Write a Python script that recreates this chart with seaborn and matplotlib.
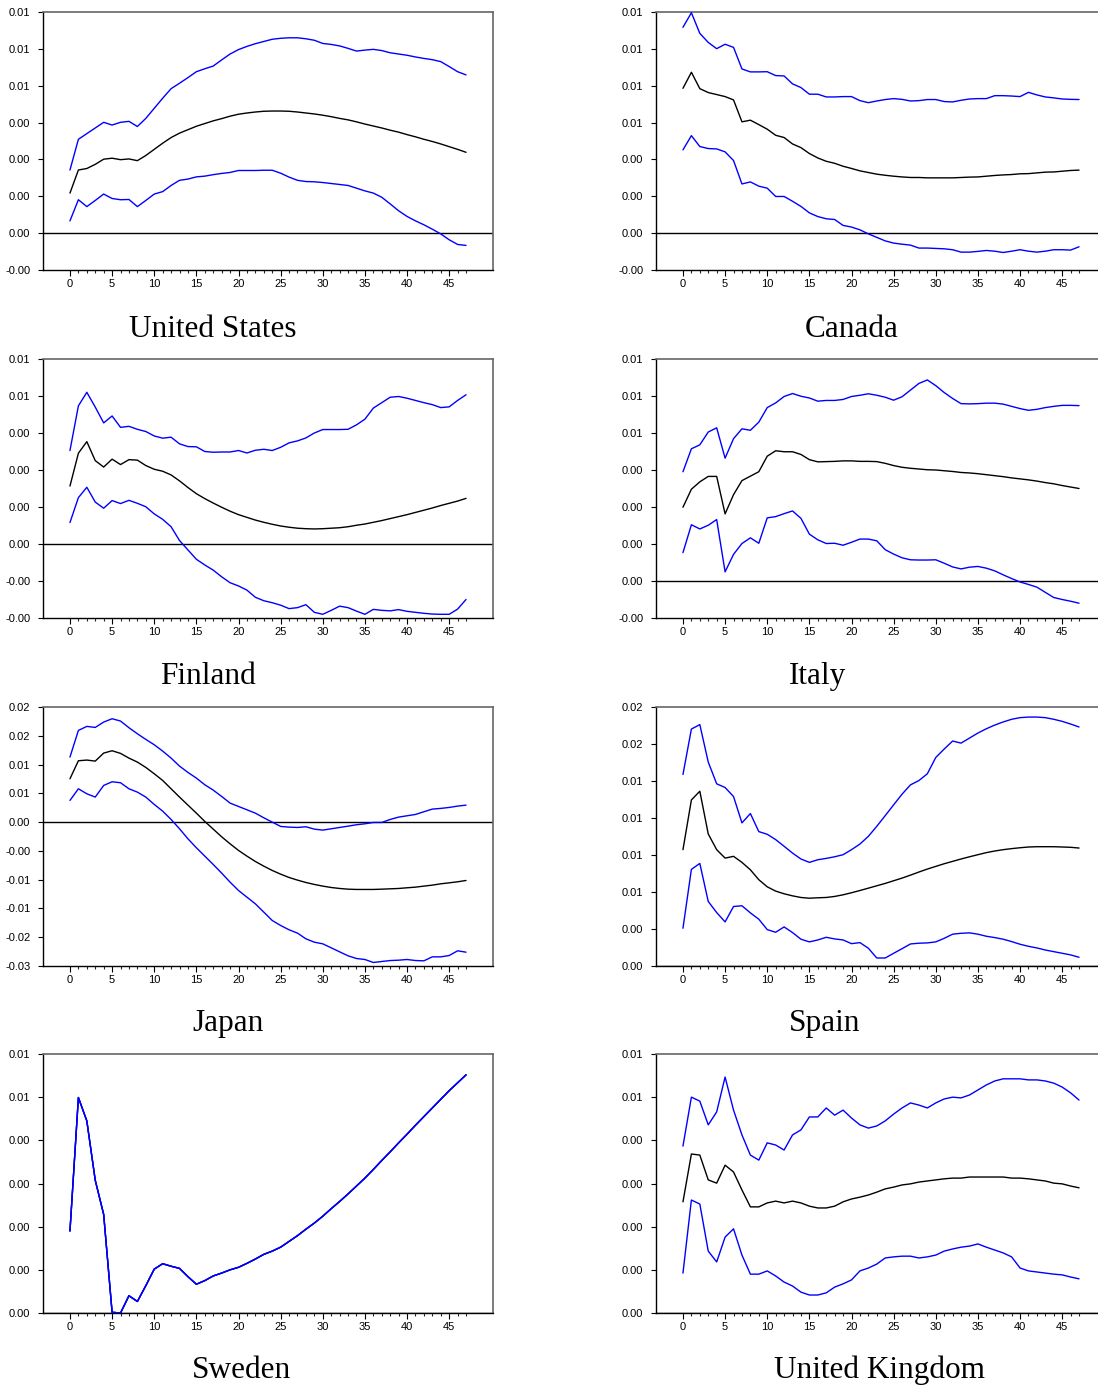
import numpy as np
import matplotlib
matplotlib.use("Agg")
import matplotlib.pyplot as plt
import seaborn as sns
from matplotlib.ticker import FixedLocator

sns.set_style("ticks")
plt.rcParams["font.family"] = ["Liberation Sans Narrow", "Liberation Sans", "DejaVu Sans"]

# Impulse responses over 48 periods (values in thousandths): point estimate and bands
horizon = np.arange(48)

us_upper = np.array([2.57, 3.82, 4.05, 4.28, 4.51, 4.40, 4.51, 4.55, 4.34, 4.67, 5.08, 5.49,
                     5.88, 6.10, 6.33, 6.57, 6.69, 6.80, 7.05, 7.29, 7.47, 7.60, 7.71, 7.80,
                     7.89, 7.93, 7.95, 7.95, 7.91, 7.85, 7.72, 7.68, 7.62, 7.52, 7.41, 7.45,
                     7.48, 7.43, 7.34, 7.29, 7.24, 7.17, 7.11, 7.06, 6.98, 6.78, 6.57, 6.44]) / 1000
us_mid = np.array([1.63, 2.57, 2.63, 2.80, 3.01, 3.05, 2.99, 3.02, 2.95, 3.16, 3.41, 3.66,
                   3.89, 4.07, 4.21, 4.35, 4.46, 4.57, 4.66, 4.76, 4.84, 4.89, 4.93, 4.96,
                   4.97, 4.97, 4.96, 4.93, 4.89, 4.85, 4.80, 4.74, 4.67, 4.61, 4.53, 4.44,
                   4.36, 4.28, 4.19, 4.11, 4.01, 3.92, 3.82, 3.73, 3.63, 3.52, 3.41, 3.29]) / 1000
us_lower = np.array([0.50, 1.36, 1.08, 1.33, 1.59, 1.41, 1.36, 1.37, 1.08, 1.33, 1.59, 1.69,
                     1.94, 2.15, 2.20, 2.29, 2.32, 2.38, 2.43, 2.47, 2.55, 2.55, 2.55, 2.56,
                     2.56, 2.44, 2.28, 2.15, 2.10, 2.09, 2.06, 2.02, 1.98, 1.94, 1.83, 1.72,
                     1.63, 1.46, 1.19, 0.91, 0.68, 0.50, 0.34, 0.16, -0.03, -0.27, -0.46, -0.50]) / 1000

ca_upper = np.array([11.17, 11.96, 10.84, 10.35, 10.01, 10.25, 10.08, 8.91, 8.75, 8.75, 8.76, 8.55,
                     8.53, 8.10, 7.90, 7.54, 7.54, 7.39, 7.39, 7.41, 7.41, 7.19, 7.08, 7.17,
                     7.25, 7.30, 7.26, 7.17, 7.19, 7.25, 7.25, 7.14, 7.12, 7.21, 7.28, 7.30,
                     7.30, 7.46, 7.46, 7.44, 7.41, 7.64, 7.50, 7.39, 7.34, 7.28, 7.26, 7.25]) / 1000
ca_mid = np.array([7.86, 8.73, 7.84, 7.63, 7.52, 7.41, 7.23, 6.04, 6.13, 5.89, 5.64, 5.31,
                   5.19, 4.84, 4.64, 4.32, 4.08, 3.90, 3.79, 3.63, 3.51, 3.38, 3.29, 3.20,
                   3.14, 3.09, 3.05, 3.02, 3.02, 3.00, 3.00, 3.00, 3.00, 3.02, 3.04, 3.05,
                   3.09, 3.13, 3.16, 3.18, 3.22, 3.23, 3.27, 3.31, 3.32, 3.36, 3.40, 3.42]) / 1000
ca_lower = np.array([4.52, 5.29, 4.70, 4.59, 4.57, 4.41, 3.94, 2.67, 2.78, 2.55, 2.44, 1.99,
                     1.99, 1.73, 1.45, 1.10, 0.90, 0.78, 0.74, 0.42, 0.33, 0.18, -0.04, -0.23,
                     -0.42, -0.54, -0.60, -0.65, -0.81, -0.81, -0.83, -0.85, -0.90, -1.03, -1.03, -0.99,
                     -0.94, -0.98, -1.05, -0.98, -0.90, -0.98, -1.03, -0.98, -0.90, -0.90, -0.92, -0.74]) / 1000

fi_upper = np.array([3.79, 5.60, 6.15, 5.55, 4.91, 5.19, 4.73, 4.77, 4.65, 4.56, 4.38, 4.29,
                     4.33, 4.06, 3.95, 3.94, 3.75, 3.72, 3.73, 3.73, 3.79, 3.69, 3.80, 3.84,
                     3.79, 3.92, 4.10, 4.18, 4.30, 4.50, 4.64, 4.64, 4.64, 4.65, 4.83, 5.06,
                     5.51, 5.73, 5.95, 5.98, 5.91, 5.82, 5.73, 5.65, 5.53, 5.56, 5.82, 6.05]) / 1000
fi_mid = np.array([2.35, 3.68, 4.15, 3.38, 3.12, 3.44, 3.22, 3.42, 3.40, 3.18, 3.03, 2.95,
                   2.80, 2.56, 2.29, 2.04, 1.84, 1.66, 1.49, 1.33, 1.19, 1.08, 0.97, 0.88,
                   0.80, 0.73, 0.68, 0.64, 0.62, 0.61, 0.62, 0.64, 0.66, 0.70, 0.76, 0.81,
                   0.88, 0.95, 1.03, 1.11, 1.19, 1.28, 1.37, 1.46, 1.56, 1.65, 1.74, 1.85]) / 1000
fi_lower = np.array([0.87, 1.88, 2.30, 1.70, 1.45, 1.76, 1.64, 1.77, 1.65, 1.51, 1.22, 1.00,
                     0.70, 0.14, -0.24, -0.62, -0.85, -1.06, -1.33, -1.57, -1.70, -1.87, -2.16, -2.30,
                     -2.38, -2.48, -2.62, -2.58, -2.46, -2.77, -2.85, -2.69, -2.52, -2.58, -2.72, -2.85,
                     -2.65, -2.69, -2.71, -2.66, -2.73, -2.77, -2.81, -2.84, -2.85, -2.85, -2.64, -2.25]) / 1000

it_upper = np.array([4.43, 5.36, 5.52, 6.04, 6.21, 4.98, 5.77, 6.17, 6.11, 6.44, 7.03, 7.22,
                     7.48, 7.60, 7.49, 7.42, 7.29, 7.32, 7.32, 7.36, 7.48, 7.53, 7.59, 7.53,
                     7.45, 7.33, 7.47, 7.74, 8.01, 8.15, 7.92, 7.64, 7.40, 7.19, 7.18, 7.19,
                     7.21, 7.21, 7.17, 7.08, 6.99, 6.92, 6.96, 7.03, 7.08, 7.12, 7.12, 7.11]) / 1000
it_mid = np.array([2.99, 3.72, 4.02, 4.24, 4.24, 2.72, 3.50, 4.07, 4.25, 4.43, 5.06, 5.28,
                   5.24, 5.24, 5.13, 4.92, 4.83, 4.84, 4.85, 4.87, 4.87, 4.85, 4.85, 4.84,
                   4.77, 4.68, 4.61, 4.57, 4.54, 4.51, 4.50, 4.47, 4.44, 4.40, 4.38, 4.35,
                   4.31, 4.27, 4.23, 4.18, 4.14, 4.10, 4.05, 3.99, 3.94, 3.87, 3.81, 3.75]) / 1000
it_lower = np.array([1.15, 2.28, 2.11, 2.26, 2.49, 0.37, 1.08, 1.52, 1.75, 1.53, 2.56, 2.61,
                     2.73, 2.84, 2.54, 1.90, 1.67, 1.52, 1.53, 1.45, 1.57, 1.70, 1.70, 1.63,
                     1.27, 1.09, 0.94, 0.86, 0.85, 0.85, 0.86, 0.72, 0.57, 0.49, 0.56, 0.59,
                     0.52, 0.41, 0.25, 0.10, -0.04, -0.14, -0.25, -0.46, -0.67, -0.75, -0.82, -0.90]) / 1000

jp_upper = np.array([11.30, 15.93, 16.63, 16.45, 17.38, 17.96, 17.56, 16.40, 15.35, 14.37, 13.44, 12.34,
                     11.12, 9.73, 8.63, 7.65, 6.49, 5.56, 4.46, 3.30, 2.72, 2.14, 1.56, 0.75,
                     0.00, -0.75, -0.87, -0.93, -0.81, -1.22, -1.39, -1.16, -0.93, -0.70, -0.46, -0.29,
                     -0.06, -0.06, 0.46, 0.87, 1.10, 1.33, 1.80, 2.26, 2.38, 2.55, 2.78, 2.95]) / 1000
jp_mid = np.array([7.53, 10.66, 10.78, 10.60, 11.99, 12.40, 11.94, 11.12, 10.43, 9.50, 8.40, 7.24,
                   5.79, 4.35, 2.95, 1.56, 0.12, -1.22, -2.55, -3.77, -4.92, -5.91, -6.84, -7.65,
                   -8.40, -9.04, -9.62, -10.08, -10.49, -10.83, -11.12, -11.36, -11.53, -11.65, -11.70, -11.70,
                   -11.70, -11.65, -11.59, -11.53, -11.41, -11.30, -11.12, -10.95, -10.72, -10.55, -10.37, -10.14]) / 1000
jp_lower = np.array([3.77, 5.79, 4.92, 4.35, 6.37, 7.01, 6.84, 5.79, 5.21, 4.35, 3.07, 1.91,
                     0.46, -1.16, -2.90, -4.46, -5.91, -7.36, -8.86, -10.43, -11.88, -13.04, -14.20, -15.64,
                     -17.09, -17.96, -18.71, -19.29, -20.28, -20.86, -21.15, -21.84, -22.54, -23.23, -23.70, -23.87,
                     -24.39, -24.22, -24.05, -23.99, -23.87, -24.05, -24.10, -23.41, -23.41, -23.18, -22.36, -22.60]) / 1000

es_upper = np.array([12.94, 16.01, 16.31, 13.78, 12.31, 12.06, 11.45, 9.67, 10.30, 9.08, 8.90, 8.54,
                     8.09, 7.63, 7.23, 7.00, 7.18, 7.27, 7.38, 7.52, 7.86, 8.24, 8.76, 9.44,
                     10.16, 10.89, 11.61, 12.24, 12.53, 12.99, 14.09, 14.66, 15.20, 15.06, 15.40, 15.74,
                     16.03, 16.28, 16.49, 16.67, 16.78, 16.82, 16.82, 16.78, 16.67, 16.53, 16.35, 16.15]) / 1000
es_mid = np.array([7.86, 11.22, 11.81, 8.92, 7.86, 7.29, 7.41, 7.00, 6.50, 5.83, 5.35, 5.06,
                   4.88, 4.74, 4.63, 4.58, 4.61, 4.63, 4.70, 4.81, 4.95, 5.10, 5.26, 5.42,
                   5.58, 5.76, 5.94, 6.14, 6.35, 6.55, 6.73, 6.91, 7.07, 7.23, 7.38, 7.52,
                   7.66, 7.77, 7.86, 7.93, 7.99, 8.04, 8.06, 8.06, 8.06, 8.04, 8.02, 7.97]) / 1000
es_lower = np.array([2.55, 6.53, 6.93, 4.36, 3.61, 2.98, 4.02, 4.07, 3.59, 3.16, 2.46, 2.28,
                     2.64, 2.26, 1.81, 1.63, 1.76, 1.94, 1.83, 1.76, 1.51, 1.58, 1.20, 0.54,
                     0.54, 0.86, 1.17, 1.49, 1.54, 1.56, 1.63, 1.87, 2.15, 2.21, 2.24, 2.15,
                     2.01, 1.92, 1.81, 1.65, 1.47, 1.33, 1.22, 1.08, 0.97, 0.86, 0.75, 0.59]) / 1000

# Sweden: the bands coincide with the point estimate
se_mid = np.array([2.28, 5.99, 5.34, 3.69, 2.74, 0.02, 0.00, 0.48, 0.32, 0.76, 1.22, 1.37,
                   1.30, 1.24, 1.01, 0.80, 0.90, 1.03, 1.11, 1.20, 1.27, 1.38, 1.50, 1.63,
                   1.72, 1.83, 1.99, 2.15, 2.33, 2.50, 2.69, 2.90, 3.10, 3.31, 3.53, 3.75,
                   3.99, 4.24, 4.48, 4.73, 4.97, 5.22, 5.46, 5.70, 5.94, 6.18, 6.40, 6.62]) / 1000
se_upper = se_mid.copy()
se_lower = se_mid.copy()

uk_upper = np.array([4.64, 6.00, 5.89, 5.23, 5.59, 6.56, 5.64, 4.95, 4.39, 4.25, 4.73, 4.67,
                     4.53, 4.95, 5.09, 5.45, 5.45, 5.70, 5.50, 5.64, 5.42, 5.23, 5.14, 5.20,
                     5.34, 5.53, 5.70, 5.84, 5.78, 5.70, 5.84, 5.95, 6.00, 5.98, 6.06, 6.20,
                     6.34, 6.45, 6.51, 6.51, 6.51, 6.48, 6.48, 6.45, 6.39, 6.28, 6.12, 5.92]) / 1000
uk_mid = np.array([3.09, 4.42, 4.39, 3.70, 3.61, 4.11, 3.92, 3.42, 2.95, 2.95, 3.06, 3.11,
                   3.06, 3.11, 3.06, 2.97, 2.92, 2.92, 2.97, 3.09, 3.17, 3.22, 3.28, 3.36,
                   3.45, 3.50, 3.56, 3.59, 3.64, 3.67, 3.70, 3.73, 3.75, 3.75, 3.78, 3.78,
                   3.78, 3.78, 3.78, 3.75, 3.75, 3.73, 3.70, 3.67, 3.61, 3.59, 3.53, 3.48]) / 1000
uk_lower = np.array([1.11, 3.14, 3.03, 1.72, 1.42, 2.11, 2.34, 1.61, 1.08, 1.08, 1.17, 1.03,
                     0.86, 0.75, 0.58, 0.50, 0.50, 0.56, 0.72, 0.81, 0.92, 1.17, 1.25, 1.36,
                     1.53, 1.56, 1.58, 1.58, 1.53, 1.56, 1.61, 1.72, 1.78, 1.83, 1.86, 1.92,
                     1.83, 1.75, 1.67, 1.56, 1.25, 1.17, 1.14, 1.11, 1.08, 1.06, 1.00, 0.95]) / 1000

countries = ["United States", "Canada", "Finland", "Italy",
             "Japan", "Spain", "Sweden", "United Kingdom"]
series = [(us_upper, us_mid, us_lower), (ca_upper, ca_mid, ca_lower),
          (fi_upper, fi_mid, fi_lower), (it_upper, it_mid, it_lower),
          (jp_upper, jp_mid, jp_lower), (es_upper, es_mid, es_lower),
          (se_upper, se_mid, se_lower), (uk_upper, uk_mid, uk_lower)]

# y tick values (thousandths) and their printed two-decimal labels
y_ticks = [np.arange(-1.5, 9.01, 1.5), np.arange(-2, 12.01, 2),
           np.arange(-3, 7.51, 1.5), np.arange(-1.5, 9.01, 1.5),
           np.arange(-25, 20.01, 5), np.arange(0, 17.51, 2.5),
           np.arange(0, 7.21, 1.2), np.arange(0, 7.21, 1.2)]
y_labels = [["-0.00", "0.00", "0.00", "0.00", "0.00", "0.01", "0.01", "0.01"],
            ["-0.00", "0.00", "0.00", "0.00", "0.01", "0.01", "0.01", "0.01"],
            ["-0.00", "-0.00", "0.00", "0.00", "0.00", "0.00", "0.01", "0.01"],
            ["-0.00", "0.00", "0.00", "0.00", "0.00", "0.01", "0.01", "0.01"],
            ["-0.03", "-0.02", "-0.01", "-0.01", "-0.00", "0.00", "0.01", "0.01", "0.02", "0.02"],
            ["0.00", "0.00", "0.01", "0.01", "0.01", "0.01", "0.02", "0.02"],
            ["0.00", "0.00", "0.00", "0.00", "0.00", "0.01", "0.01"],
            ["0.00", "0.00", "0.00", "0.00", "0.00", "0.01", "0.01"]]

# Layout in pixels
W, H = 1098, 1387
col_x = [(43, 493), (656, 1106)]
row_y = [(12, 270), (359, 618), (707, 966), (1054, 1313)]
title_xy = [(213, 337), (852, 337), (208, 684), (818, 684),
            (228, 1031), (825, 1031), (242, 1378), (880, 1378)]

fig = plt.figure(figsize=(W / 100, H / 100), dpi=100)

for i, name in enumerate(countries):
    r, c = divmod(i, 2)
    x0, x1 = col_x[c]
    yt, yb = row_y[r]
    ax = fig.add_axes([x0 / W, 1 - yb / H, (x1 - x0) / W, (yb - yt) / H])
    upper, mid, lower = series[i]

    ax.axhline(0, color="black", lw=1.0, zorder=1)
    sns.lineplot(x=horizon, y=mid, ax=ax, color="black", lw=1.0, zorder=2)
    sns.lineplot(x=horizon, y=upper, ax=ax, color="#0000ff", lw=1.0, zorder=3)
    sns.lineplot(x=horizon, y=lower, ax=ax, color="#0000ff", lw=1.0, zorder=3)

    ticks = y_ticks[i] / 1000
    ax.set_ylim(ticks[0], ticks[-1])
    ax.set_yticks(ticks)
    ax.set_yticklabels(y_labels[i])
    ax.set_xlim(-3.2, 50.2)
    ax.set_xticks(np.arange(0, 46, 5))
    ax.set_xticklabels([str(v) for v in range(0, 46, 5)])
    ax.xaxis.set_minor_locator(FixedLocator(horizon))
    ax.set_xlabel("")
    ax.set_ylabel("")

    for side in ("left", "bottom"):
        ax.spines[side].set_color("black")
        ax.spines[side].set_linewidth(1.0)
        ax.spines[side].set_visible(True)
    for side in ("top", "right"):
        ax.spines[side].set_visible(True)
        ax.spines[side].set_color("#666666")
        ax.spines[side].set_linewidth(1.2)

    ax.tick_params(axis="y", direction="out", length=3.6, width=0.8, pad=5.5,
                   labelsize=8, colors="black", left=True, right=False)
    ax.tick_params(axis="x", which="major", direction="out", length=4.3, width=0.8,
                   pad=2.5, labelsize=8, colors="black", top=False)
    ax.tick_params(axis="x", which="minor", direction="out", length=2.4, width=0.8, top=False)

    tx, ty = title_xy[i]
    fig.text(tx / W, 1 - ty / H, name, ha="center", va="baseline",
             family=["Liberation Serif", "DejaVu Serif"], fontsize=22.5, color="black")

fig.savefig("out.png", dpi=100)
